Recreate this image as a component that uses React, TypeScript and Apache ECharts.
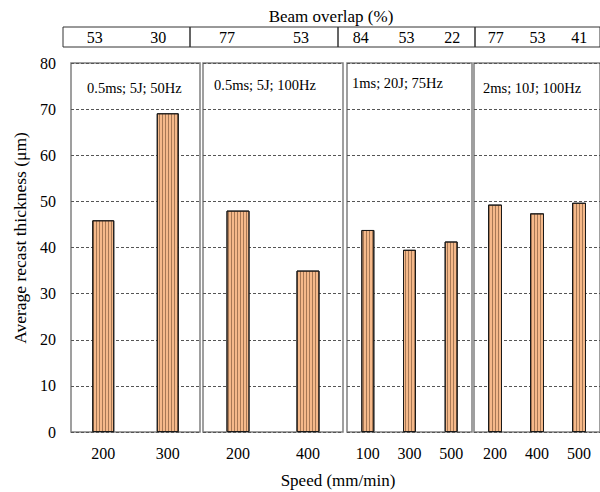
import React, { useEffect, useRef } from 'react';
import * as echarts from 'echarts';

// Data
const speeds1 = ['200', '300'];
const speeds2 = ['200', '400'];
const speeds3 = ['100', '300', '500'];
const speeds4 = ['200', '400', '500'];
const thickness1 = [45.9, 69.1];
const thickness2 = [48.0, 35.0];
const thickness3 = [43.8, 39.5, 41.3];
const thickness4 = [49.3, 47.4, 49.7];
const overlap1 = ['53', '30'];
const overlap2 = ['77', '53'];
const overlap3 = ['84', '53', '22'];
const overlap4 = ['77', '53', '41'];
const panelLabels = ['0.5ms; 5J; 50Hz', '0.5ms; 5J; 100Hz', '1ms; 20J; 75Hz', '2ms; 10J; 100Hz'];
const yMin = 0;
const yMax = 80;
const yStep = 10;

const speeds = [speeds1, speeds2, speeds3, speeds4];
const thickness = [thickness1, thickness2, thickness3, thickness4];
const overlaps = [overlap1, overlap2, overlap3, overlap4];

// Layout
const FONT = 'Liberation Serif';
const panelBoxes = [
  { left: 71, width: 129, barWidth: 22 },
  { left: 203, width: 140, barWidth: 23 },
  { left: 347, width: 125, barWidth: 13 },
  { left: 474, width: 132, barWidth: 14 },
];
const tableBoxes = [
  { left: 63, width: 127 },
  { left: 190, width: 148 },
  { left: 338, width: 137 },
  { left: 475, width: 135 },
];
const labelPos = [
  { x: 87, y: 88 },
  { x: 214, y: 85 },
  { x: 352, y: 83 },
  { x: 483, y: 88 },
];
const PANEL_TOP = 63;
const PANEL_HEIGHT = 369;

export default function App() {
  const ref = useRef<HTMLDivElement>(null);
  useEffect(() => {
    if (!ref.current) return;
    const chart = echarts.init(ref.current, null, { renderer: 'svg' });
    const grids: any[] = [];
    const xAxes: any[] = [];
    const yAxes: any[] = [];
    const series: any[] = [];

    panelBoxes.forEach((p, i) => {
      grids.push({
        left: p.left,
        width: p.width,
        top: PANEL_TOP,
        height: PANEL_HEIGHT,
        show: true,
        borderColor: '#808080',
        borderWidth: 1.5,
        backgroundColor: 'transparent',
        containLabel: false,
      });
      xAxes.push({
        type: 'category',
        gridIndex: i,
        data: speeds[i],
        axisLine: { show: false },
        axisTick: { show: false },
        axisLabel: { fontFamily: FONT, fontSize: 16, color: '#000', margin: 13 },
        splitLine: { show: false },
      });
      yAxes.push({
        type: 'value',
        gridIndex: i,
        min: yMin,
        max: yMax,
        interval: yStep,
        axisLine: { show: false },
        axisTick: { show: false },
        axisLabel: {
          show: i === 0,
          fontFamily: FONT,
          fontSize: 16,
          color: '#000',
          margin: 15,
        },
        splitLine: {
          show: true,
          lineStyle: { color: '#555', type: [3, 2], width: 1 },
        },
      });
      series.push({
        type: 'bar',
        xAxisIndex: i,
        yAxisIndex: i,
        data: thickness[i],
        barWidth: p.barWidth,
        itemStyle: {
          color: '#F5B98A',
          borderColor: '#1a1a1a',
          borderWidth: 1,
          decal: {
            symbol: 'rect',
            symbolSize: 1,
            dashArrayX: [1, 2],
            dashArrayY: [4, 0],
            rotation: 0,
            color: 'rgba(90,55,30,0.5)',
          },
        },
      });
    });

    tableBoxes.forEach((t, j) => {
      const gi = panelBoxes.length + j;
      grids.push({
        left: t.left,
        width: t.width,
        top: 27,
        height: 20,
        show: true,
        borderColor: '#333',
        borderWidth: 1,
        backgroundColor: 'transparent',
      });
      xAxes.push({
        type: 'category',
        gridIndex: gi,
        data: overlaps[j],
        axisLine: { show: false },
        axisTick: { show: false },
        axisLabel: {
          inside: true,
          fontFamily: FONT,
          fontSize: 16,
          color: '#000',
          margin: 2,
        },
        splitLine: { show: false },
      });
      yAxes.push({ type: 'value', gridIndex: gi, show: false, splitLine: { show: false } });
    });

    chart.setOption({
      animation: false,
      backgroundColor: '#fff',
      grid: grids,
      xAxis: xAxes,
      yAxis: yAxes,
      series,
      graphic: [
        {
          type: 'text',
          x: 20,
          y: 238,
          rotation: Math.PI / 2,
          style: {
            text: 'Average recast thickness (μm)',
            fontFamily: FONT,
            fontSize: 17.5,
            fill: '#000',
            textAlign: 'center',
            textVerticalAlign: 'middle',
          },
        },
        {
          type: 'text',
          x: 331,
          y: 16,
          style: {
            text: 'Beam overlap (%)',
            fontFamily: FONT,
            fontSize: 17,
            fill: '#000',
            textAlign: 'center',
            textVerticalAlign: 'middle',
          },
        },
        {
          type: 'text',
          x: 338,
          y: 480,
          style: {
            text: 'Speed (mm/min)',
            fontFamily: FONT,
            fontSize: 17,
            fill: '#000',
            textAlign: 'center',
            textVerticalAlign: 'middle',
          },
        },
        ...panelLabels.map((txt, i) => ({
          type: 'text',
          x: labelPos[i].x,
          y: labelPos[i].y,
          style: {
            text: txt,
            fontFamily: FONT,
            fontSize: 14.5,
            fill: '#000',
            textAlign: 'left',
            textVerticalAlign: 'middle',
          },
        })),
      ],
    });
    return () => chart.dispose();
  }, []);
  return <div ref={ref} style={{ width: 600, height: 492, position: 'absolute', left: 0, top: 0 }} />;
}
